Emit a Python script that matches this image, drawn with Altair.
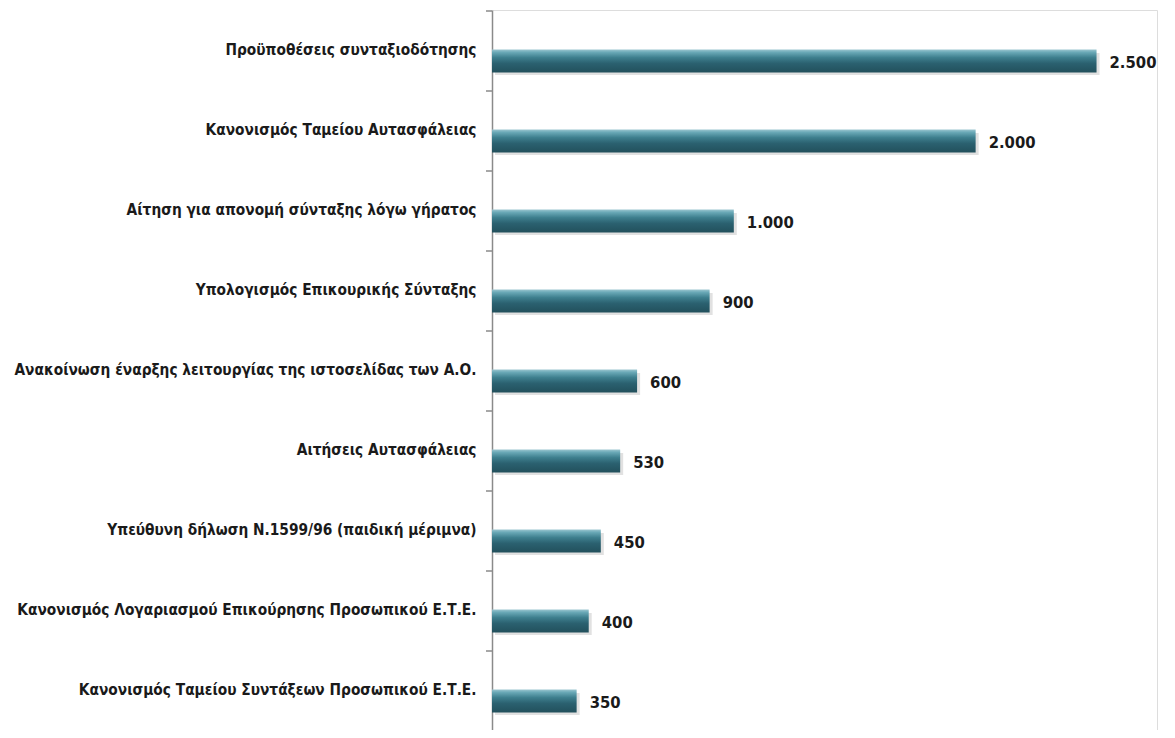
import altair as alt
import pandas as pd

categories = [
    "Προϋποθέσεις συνταξιοδότησης",
    "Κανονισμός Ταμείου Αυτασφάλειας",
    "Αίτηση για απονομή σύνταξης λόγω γήρατος",
    "Υπολογισμός Επικουρικής Σύνταξης",
    "Ανακοίνωση έναρξης λειτουργίας της ιστοσελίδας των Α.Ο.",
    "Αιτήσεις Αυτασφάλειας",
    "Υπεύθυνη δήλωση Ν.1599/96 (παιδική μέριμνα)",
    "Κανονισμός Λογαριασμού Επικούρησης Προσωπικού Ε.Τ.Ε.",
    "Κανονισμός Ταμείου Συντάξεων Προσωπικού Ε.Τ.Ε.",
]
values = [2500, 2000, 1000, 900, 600, 530, 450, 400, 350]

df = pd.DataFrame({"cat": categories, "v": values})

FONT = "DejaVu Sans Condensed"

y_enc = alt.Y(
    "cat:N",
    sort=categories,
    scale=alt.Scale(paddingInner=0, paddingOuter=0),
    axis=alt.Axis(
        title=None,
        ticks=False,
        domainColor="#8a8a8a",
        domainWidth=1.5,
        labelFont=FONT,
        labelFontSize=15.3,
        labelFontWeight="bold",
        labelColor="#1a1a1a",
        labelPadding=16,
        labelLimit=600,
    ),
)
x_enc = alt.X("v:Q", scale=alt.Scale(domain=[0, 2750]), axis=None)

base = alt.Chart(df)

shadow = base.mark_bar(size=22, color="#9a9a9a", opacity=0.3, yOffset=14, xOffset=3).encode(
    x=x_enc, y=y_enc
)

bars = base.mark_bar(
    size=23,
    yOffset=11,
    color=alt.Gradient(
        gradient="linear",
        x1=0, x2=0, y1=0, y2=1,
        stops=[
            alt.GradientStop(offset=0, color="#9cc6d0"),
            alt.GradientStop(offset=0.12, color="#6aa9b7"),
            alt.GradientStop(offset=0.35, color="#3e7f8e"),
            alt.GradientStop(offset=0.6, color="#2b6170"),
            alt.GradientStop(offset=1, color="#22505c"),
        ],
    ),
).encode(x=x_enc, y=y_enc)

labels = base.transform_calculate(
    lbl="replace(format(datum.v, ',d'), ',', '.')"
).mark_text(
    align="left",
    baseline="middle",
    dx=13,
    dy=13,
    font=FONT,
    fontSize=16.5,
    fontWeight="bold",
    color="#1a1a1a",
).encode(x=x_enc, y=y_enc, text="lbl:N")

ticks = base.mark_rule(color="#8a8a8a", strokeWidth=1.5, yOffset=-39).encode(
    y=y_enc,
    x=alt.value(-6),
    x2=alt.value(0),
)

chart = (
    alt.layer(shadow, bars, labels, ticks)
    .properties(
        width=665,
        height=720,
        autosize=alt.AutoSizeParams(type="none"),
        padding={"left": 484, "top": 2, "right": 10, "bottom": 0},
    )
    .configure_view(strokeWidth=0, stroke="transparent")
    .configure(background="white")
)

chart.save("out.html", embed_options={"renderer": "svg", "actions": False})
